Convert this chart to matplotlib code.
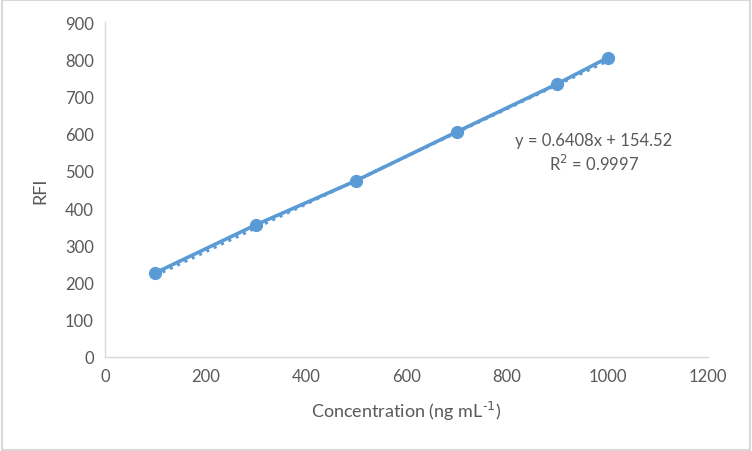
import matplotlib
matplotlib.use("Agg")
import matplotlib.pyplot as plt
import numpy as np

concentration = [100, 300, 500, 700, 900, 1000]
rfi = [226, 355, 474, 605, 734, 804]
slope = 0.6408
intercept = 154.52
r2 = 0.9997
x_ticks = [0, 200, 400, 600, 800, 1000, 1200]
y_ticks = [0, 100, 200, 300, 400, 500, 600, 700, 800, 900]

plt.rcParams['font.family'] = ['Lato', 'DejaVu Sans']
blue = '#5B9BD5'
gray = '#595959'

fig = plt.figure(figsize=(7.52, 4.52), dpi=100)
fig.patch.set_facecolor('white')
ax = fig.add_axes([0.1396, 0.208, 0.802, 0.741])

xt = np.array([concentration[0], concentration[-1]])
ax.plot(xt, slope * xt + intercept, linestyle=':', color=blue, linewidth=2.2, zorder=2)
ax.plot(concentration, rfi, color=blue, linewidth=2.6, marker='o', markersize=8.5, zorder=3)

ax.set_xlim(0, 1200)
ax.set_ylim(0, 900)
ax.set_xticks(x_ticks)
ax.set_yticks(y_ticks)
for s in ['top', 'right']:
    ax.spines[s].set_visible(False)
for s in ['left', 'bottom']:
    ax.spines[s].set_color('#D9D9D9')
    ax.spines[s].set_linewidth(1)
ax.tick_params(length=0, labelsize=12, colors=gray, pad=8)
ax.set_xlabel(r'Concentration (ng mL$^{\text{-1}}$)', fontsize=13, color=gray, labelpad=11)
ax.set_ylabel('RFI', fontsize=13, color=gray, labelpad=12)

ax.text(0.811, 0.672, f'y = {slope}x + {intercept}\nR$^2$ = {r2}', transform=ax.transAxes,
        ha='center', va='top', fontsize=12, color=gray, linespacing=1.3)

fig.add_artist(plt.Rectangle((0.002, 0.003), 0.996, 0.994, transform=fig.transFigure,
                             fill=False, edgecolor='#D9D9D9', linewidth=1.5))
fig.savefig('out.png', dpi=100)
